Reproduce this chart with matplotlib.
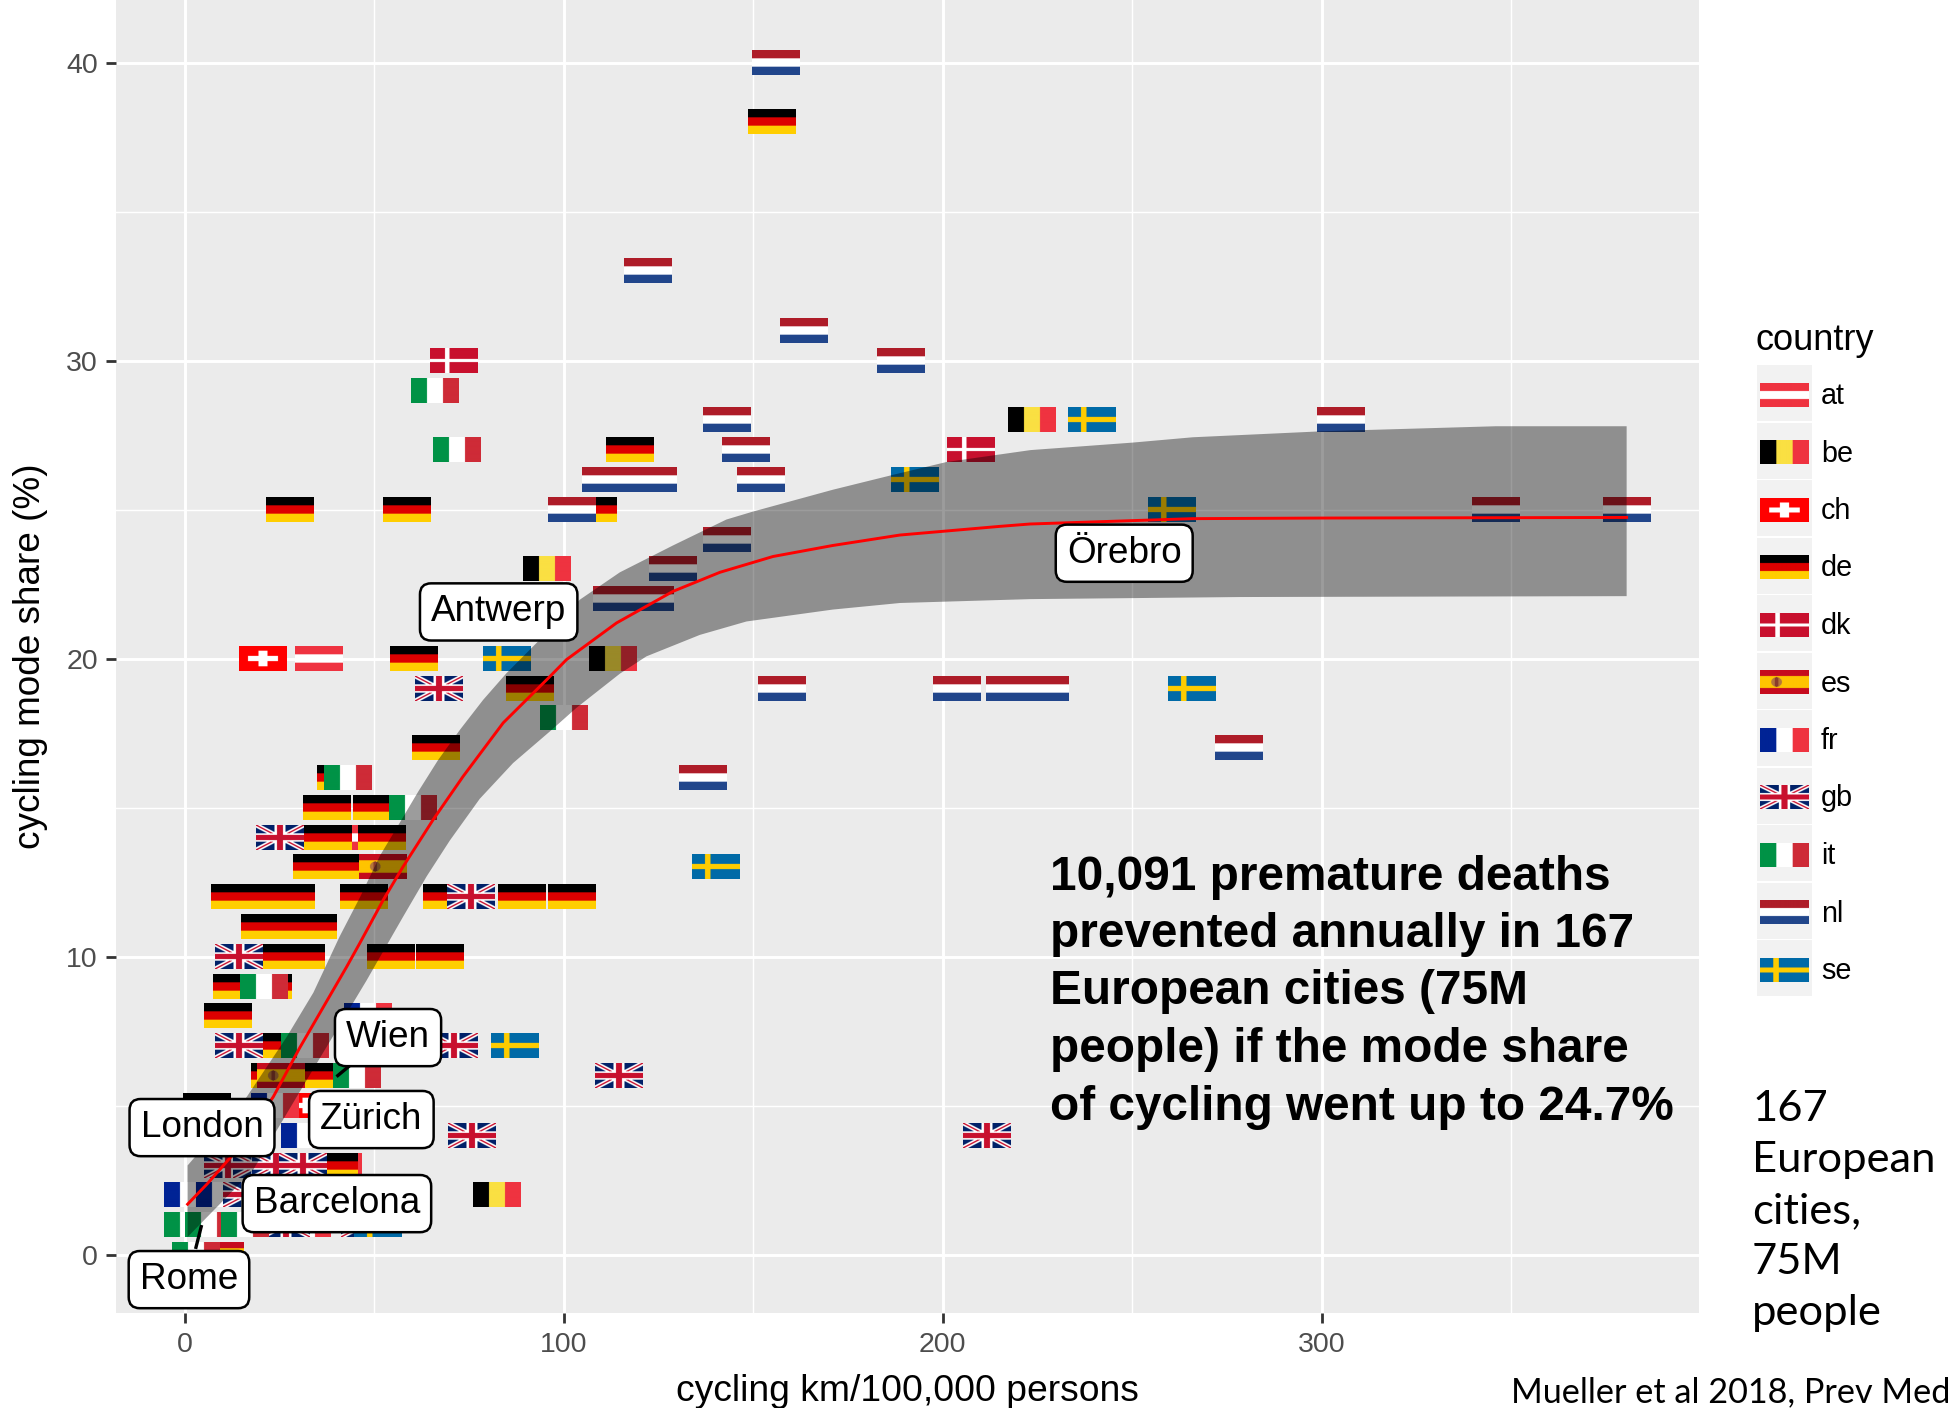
import numpy as np
import matplotlib
matplotlib.use("Agg")
import matplotlib.pyplot as plt
from matplotlib.patches import Rectangle

plt.rcParams['font.family'] = ['Liberation Sans', 'DejaVu Sans']

# ---------- data (cycling km/100,000 persons, mode share %) ----------
at_x = [35.3, 45]
at_y = [20, 14]
be_x = [95.4, 223.4, 112.9, 82.2, 40.4]
be_y = [23, 28, 20, 2, 3]
ch_x = [20.5, 32]
ch_y = [20, 5]
de_x = [154.8, 117.5, 27.7, 58.4, 107.6, 60.4, 91, 66.3, 41, 37.3, 50.5, 37.8, 52, 34.8, 39.7,
        13, 20, 28, 47.2, 69, 88.8, 102, 21, 27, 33.6, 26.5, 30.6, 54.2, 67.2, 13.7, 21.8,
        11.3, 26.8, 23.8, 37.6, 5.8, 39.2]
de_y = [38, 27, 25, 25, 25, 20, 19, 17, 16, 15, 15, 14, 14, 13, 13,
        12, 12, 12, 12, 12, 12, 12, 11, 11, 11, 10, 10, 10, 10, 9, 9,
        8, 7, 6, 6, 5, 3]
dk_x = [71, 207.3]
dk_y = [30, 27]
es_x = [52.1, 25.2, 9.2]
es_y = [13, 6, 0]
fr_x = [48.3, 23.6, 31.5, 0.8, 9.2, 32]
fr_y = [8, 5, 4, 2, 2, 1]
gb_x = [67, 25, 75.3, 14.2, 14.3, 71, 114.4, 211.5, 48.3, 75.8, 11.3, 19, 24, 31, 16.4, 26.6, 47.5]
gb_y = [19, 14, 12, 10, 7, 7, 6, 4, 4, 4, 3, 3, 3, 3, 2, 1, 1]
it_x = [66, 71.6, 100, 43, 60, 20.8, 31.7, 45.4, 0.8, 6.3, 15.8, 2.9]
it_y = [29, 27, 18, 16, 15, 9, 7, 6, 1, 1, 1, 0]
nl_x = [155.8, 122, 163.4, 189, 143, 305, 148, 111, 123.4, 152, 102, 346, 380.5, 143, 128.7,
        113.9, 122.6, 157.4, 203.6, 217.8, 227, 278.2, 136.6]
nl_y = [40, 33, 31, 30, 28, 28, 27, 26, 26, 26, 25, 25, 25, 24, 23,
        22, 22, 19, 19, 19, 19, 17, 16]
se_x = [239.3, 192.7, 260.4, 84.8, 265.7, 140, 87, 50.9]
se_y = [28, 26, 25, 20, 19, 13, 7, 1]

countries = ['at', 'be', 'ch', 'de', 'dk', 'es', 'fr', 'gb', 'it', 'nl', 'se']
points = dict(at=(at_x, at_y), be=(be_x, be_y), ch=(ch_x, ch_y), de=(de_x, de_y), dk=(dk_x, dk_y),
              es=(es_x, es_y), fr=(fr_x, fr_y), gb=(gb_x, gb_y), it=(it_x, it_y), nl=(nl_x, nl_y),
              se=(se_x, se_y))

fit_x = [0.7, 6, 13.6, 23.3, 30.3, 42.7, 46.2, 52.3, 57.6, 65.5, 73.4, 84, 95.9, 100.7, 113.9, 128.8,
         141.2, 155.2, 171, 188.7, 215, 223, 266, 300, 380.5]
fit_y = [1.7, 2.4, 3.5, 5.3, 6.95, 9.67, 10.47, 11.9, 13.03, 14.6, 16.05, 17.85, 19.35, 19.97, 21.2, 22.26,
         22.9, 23.43, 23.8, 24.15, 24.44, 24.52, 24.7, 24.72, 24.74]
hi_x = [0.7, 16.3, 26.8, 33.9, 40.9, 46.2, 51.5, 56.7, 61.6, 66.8, 72.6, 78.7, 84.9, 91, 104.2, 114.8,
        128.8, 142.9, 150, 171, 186.9, 201, 223.2, 250, 266, 300, 346, 380.5]
hi_y = [3.0, 5.3, 7.3, 8.8, 10.7, 12, 13.4, 14.5, 15.55, 16.6, 17.62, 18.62, 19.52, 20.3, 21.98, 22.9,
        23.8, 24.67, 24.94, 25.67, 26.17, 26.6, 27.0, 27.25, 27.43, 27.63, 27.8, 27.8]
lo_x = [0.7, 18, 33, 47.9, 51.5, 57.6, 63.8, 69.9, 77.8, 86.6, 96.3, 103.3, 114.8, 121.8, 135.9,
        148.2, 171, 188.7, 223, 278.4, 380.5]
lo_y = [0.6, 2.85, 6.05, 9.2, 10, 11.35, 12.7, 13.9, 15.3, 16.5, 17.56, 18.35, 19.5, 20.08, 20.8,
        21.25, 21.65, 21.87, 22.0, 22.07, 22.1]

city_names = ['London', 'Wien', 'Zürich', 'Barcelona', 'Rome', 'Antwerp', 'Örebro']
city_x = [4.5, 53.6, 49.2, 40.1, 1.06, 82.8, 247.9]
city_y = [4.27, 7.29, 4.54, 1.72, -0.83, 21.57, 23.54]

headline = ['10,091 premature deaths', 'prevented annually in 167', 'European cities (75M',
            'people) if the mode share', 'of cycling went up to 24.7%']
side_note = ['167', 'European', 'cities,', '75M', 'people']
x_ticks = [0, 100, 200, 300]
y_ticks = [0, 10, 20, 30, 40]


# ---------- flag bitmaps ----------
def hexc(c):
    return [int(c[i:i + 2], 16) / 255 for i in (1, 3, 5)]


def make_flag(code, w=96, h=48):
    img = np.ones((h, w, 3))
    yy, xx = np.mgrid[0:h, 0:w]
    u, v = (xx + .5) / w, (yy + .5) / h

    def hbands(a, b, c, f=(1 / 3, 2 / 3)):
        img[v < f[0]] = hexc(a)
        img[(v >= f[0]) & (v < f[1])] = hexc(b)
        img[v >= f[1]] = hexc(c)

    def vbands(a, b, c):
        img[u < 1 / 3] = hexc(a)
        img[(u >= 1 / 3) & (u < 2 / 3)] = hexc(b)
        img[u >= 2 / 3] = hexc(c)

    if code == 'at':
        hbands('#ef3340', '#ffffff', '#ef3340')
    elif code == 'be':
        vbands('#000000', '#fae042', '#ef3340')
    elif code == 'ch':
        img[:] = hexc('#ff0000')
        img[(abs(u - .5) < .31) & (abs(v - .5) < .11)] = 1
        img[(abs(u - .5) < .09) & (abs(v - .5) < .31)] = 1
    elif code == 'de':
        hbands('#000000', '#dd0000', '#ffce00')
    elif code == 'dk':
        img[:] = hexc('#c8102e')
        img[(abs(u - .36) < .05) | (abs(v - .5) < .07)] = 1
    elif code == 'es':
        hbands('#c60b1e', '#ffc400', '#c60b1e', (.25, .75))
        emblem = ((u - .34) ** 2 / .11 ** 2 + (v - .5) ** 2 / .2 ** 2) < 1
        img[emblem] = hexc('#b5763a')
        img[emblem & (abs(u - .34) < .035)] = hexc('#8a3b2c')
    elif code == 'fr':
        vbands('#002395', '#ffffff', '#ef3340')
    elif code == 'gb':
        img[:] = hexc('#012169')
        d1, d2 = abs(v - u), abs(v - (1 - u))
        img[(d1 < .1) | (d2 < .1)] = 1
        img[(d1 < .035) | (d2 < .035)] = hexc('#c8102e')
        img[(abs(u - .5) < .11) | (abs(v - .5) < .17)] = 1
        img[(abs(u - .5) < .065) | (abs(v - .5) < .1)] = hexc('#c8102e')
    elif code == 'it':
        vbands('#009246', '#ffffff', '#ce2b37')
    elif code == 'nl':
        hbands('#ae1c28', '#ffffff', '#21468b')
    elif code == 'se':
        img[:] = hexc('#006aa7')
        img[(abs(u - .33) < .06) | (abs(v - .5) < .1)] = hexc('#fecc00')
    return img


flags = {c: make_flag(c) for c in countries}

# ---------- figure ----------
W, H = 1960, 1408
fig = plt.figure(figsize=(W / 100, H / 100), dpi=100, facecolor='white')
L, R, T, B = 116, 1699, 0, 1313
ax = fig.add_axes([L / W, 1 - B / H, (R - L) / W, (B - T) / H], facecolor='#ebebeb')
ax.set_xlim(-18.2, 399.6)
ax.set_ylim(-1.95, 42.1)
ax.set_autoscale_on(False)
for s in ax.spines.values():
    s.set_visible(False)
ax.set_axisbelow(True)
ax.set_xticks(x_ticks)
ax.set_yticks(y_ticks)
ax.set_xticks([50, 150, 250, 350], minor=True)
ax.set_yticks([5, 15, 25, 35], minor=True)
ax.grid(True, which='major', color='white', lw=2.1)
ax.grid(True, which='minor', color='white', lw=1.05)
ax.tick_params(which='minor', length=0)
ax.tick_params(axis='x', which='major', length=7, width=2, color='#333333', labelcolor='#4d4d4d',
               labelsize=20.5, pad=7)
ax.tick_params(axis='y', which='major', length=7, width=2, color='#333333', labelcolor='#4d4d4d',
               labelsize=20.5, pad=6)
ax.set_xlabel('cycling km/100,000 persons', fontsize=26.8, labelpad=11)
ax.set_ylabel('cycling mode share (%)', fontsize=26.6, labelpad=13)

FW, FH = 12.5, 0.81
for c in countries:
    xs, ys = points[c]
    for x, y in zip(xs, ys):
        ax.imshow(flags[c], extent=[x - FW / 2, x + FW / 2, y - FH / 2, y + FH / 2],
                  aspect='auto', interpolation='antialiased', zorder=2)

ax.fill(hi_x + lo_x[::-1], hi_y + lo_y[::-1], color='black', alpha=0.39, lw=0, zorder=3)
ax.plot(fit_x, fit_y, color='red', lw=2.1, zorder=4)

# label leader lines
ax.plot([45.3, 40], [6.54, 5.98], color='black', lw=2.4, zorder=5, solid_capstyle='butt')
ax.plot([2.8, 4.4], [0.2, 1.0], color='black', lw=2.4, zorder=5, solid_capstyle='butt')
for name, x, y in zip(city_names, city_x, city_y):
    ax.text(x, y, name, fontsize=26.6, ha='center', va='center', zorder=6,
            bbox=dict(boxstyle='round,pad=0.3,rounding_size=0.3', fc='white', ec='black', lw=1.8))

# ---------- overlay in pixel space for legend and annotations ----------
ov = fig.add_axes([0, 0, 1, 1], facecolor='none')
ov.set_xlim(0, W)
ov.set_ylim(H, 0)
ov.set_autoscale_on(False)
ov.axis('off')

for i, line in enumerate(headline):
    ov.text(1050, 877 + 57.5 * i, line, fontsize=34.4, fontweight='bold', va='center', ha='left',
            family=['Liberation Sans'])

ov.text(1755, 341, 'country', fontsize=26, va='center', ha='left')
for i, c in enumerate(countries):
    y0 = 365 + 57.5 * i
    ov.add_patch(Rectangle((1757, y0), 55, 56, fc='#f2f2f2', ec='none'))
    ov.imshow(flags[c], extent=[1760, 1809, y0 + 42, y0 + 18], aspect='auto',
              interpolation='antialiased', zorder=2)
    ov.text(1821, y0 + 31, c, fontsize=20.7, va='center', ha='left', zorder=3)

for i, line in enumerate(side_note):
    ov.text(1752, 1109 + 51 * i, line, fontsize=31.3, va='center', ha='left', family=['Lato'])
ov.text(1950, 1392, 'Mueller et al 2018, Prev Med', fontsize=24.7, va='center', ha='right', family=['Lato'])

fig.savefig('out.png', dpi=100)
